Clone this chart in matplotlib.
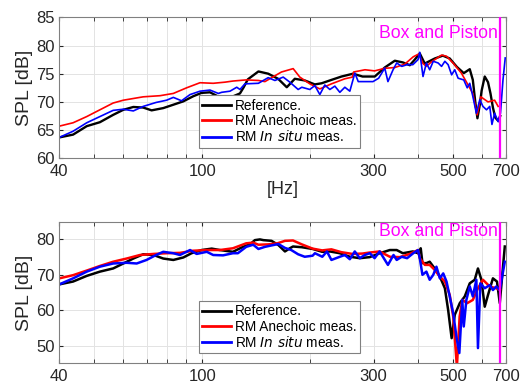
import numpy as np
import matplotlib
matplotlib.use("Agg")
import matplotlib.pyplot as plt
import matplotlib.transforms as mtransforms

plt.rcParams["font.family"] = ["Liberation Sans", "DejaVu Sans"]

# ---- top panel data (Hz, dB) ----
top_ref_f = [40, 43.7, 47.7, 51.9, 56.5, 60.3, 64.3, 68.5, 72.3, 77.9, 83.1, 88.6, 94.4, 99.6, 105.1,
             112, 115.7, 121, 127.4, 130.5, 134, 143.4, 152.7, 162.7, 172, 181.1, 193.1, 205.9, 215,
             229, 244.3, 263, 279.6, 302.4, 322.4, 343.8, 362, 378.5, 390.8, 403.5, 416.6, 444.3,
             467.7, 489, 512, 535, 556, 567, 576, 584, 593, 600, 612, 625, 635, 645, 655, 668, 676]
top_ref_db = [63.7, 64.2, 65.7, 66.4, 67.7, 68.6, 69.1, 69.0, 68.5, 68.9, 69.5, 70.1, 71.0, 71.6, 71.7,
              70.8, 70.7, 70.9, 71.5, 72.6, 74.0, 75.4, 75.0, 74.1, 72.6, 74.1, 73.8, 73.1, 73.3,
              73.9, 74.5, 75.0, 74.5, 74.5, 76.1, 77.3, 77.0, 76.5, 77.5, 78.6, 76.8, 77.7,
              78.2, 77.7, 76.2, 75.1, 75.8, 73.9, 70.0, 67.1, 69.5, 72.0, 74.5, 73.5, 71.5, 69.0, 67.2, 66.6, 67.5]

top_ane_f = [40, 43.7, 47.7, 51.9, 56.5, 60.3, 68.5, 76.3, 83.1, 90.5, 98.6, 107.3, 115.7, 121.8, 132.6,
             143.4, 149.5, 166.2, 179.2, 187, 199.4, 212.6, 229, 249.6, 262, 264, 284, 302, 322, 344,
             366.5, 387, 401, 412, 421, 435, 464, 479, 501, 527, 550, 567, 583, 597, 625, 652, 667]
top_ane_db = [65.7, 66.3, 67.4, 68.6, 69.8, 70.3, 70.9, 71.1, 71.5, 72.5, 73.4, 73.3, 73.5, 73.7, 73.9,
              73.8, 73.6, 75.3, 75.9, 74.4, 73.2, 72.3, 73.2, 74.1, 74.4, 75.3, 75.7, 75.5, 75.95, 76.1,
              76.7, 78.0, 78.5, 76.8, 76.3, 77.1, 78.3, 78.1, 76.8, 75.1, 73.0, 71.5, 67.7, 70.9, 70.0, 70.3, 69.2]

top_situ_f = [40, 43.7, 47.7, 51.9, 56.5, 60.3, 64.3, 68.5, 74.4, 79.6, 83.1, 87.6, 92.5, 98.6, 105.1,
              110.9, 113.3, 119.5, 124.8, 127.4, 131.5, 143.4, 152.7, 159.4, 168.1, 175.4, 185, 189.4,
              199.4, 205.9, 212.6, 219.5, 226.7, 234.1, 241.7, 249.6, 257.7, 266.1, 272, 287, 299, 310,
              322.4, 329, 340, 348, 359.5, 372, 386, 399, 403.5, 412, 421, 430, 440, 454, 464, 474, 484,
              495, 505, 516, 535, 547, 556, 567, 580, 593, 605, 619, 632, 641, 652, 667, 677, 688, 698]
top_situ_db = [63.7, 64.8, 66.3, 67.4, 68.5, 68.7, 68.4, 69.2, 69.9, 70.3, 70.8, 70.2, 71.3, 71.9, 72.1,
               71.5, 71.7, 71.9, 72.6, 72.2, 73.2, 73.3, 74.3, 73.8, 74.4, 73.5, 72.2, 72.6,
               72.2, 72.9, 71.3, 73.0, 72.2, 72.8, 71.7, 72.6, 71.9, 75.1, 73.6, 73.6, 73.6, 74.2,
               76.0, 73.6, 75.7, 76.9, 76.3, 76.6, 76.6, 77.5, 78.8, 74.5, 76.9, 75.7, 77.2, 76.9, 76.3, 77.2, 76.6,
               74.8, 75.7, 74.2, 73.9, 72.5, 73.3, 71.0, 68.0, 70.4, 69.2, 68.6, 69.2, 66.0, 68.0, 66.5, 68.0, 73.9, 77.8]

# ---- bottom panel data (Hz, dB) ----
bot_ref_f = [40, 43.7, 47.7, 51.9, 56.5, 60.3, 64.3, 68.5, 73.2, 77.9, 83.1, 88.6, 93.4, 99.6, 106.3,
             112, 121.8, 129.9, 135.8, 140.2, 144.8, 148, 156, 163, 170, 175.4, 179, 189.4, 203, 215.8,
             226.7, 241.7, 257.7, 274.7, 292.9, 312.3, 333, 348, 362, 386, 399, 406, 410.5, 421, 430,
             444, 459, 474, 484, 495, 505, 521.5, 538.5, 556, 574, 586, 599, 612, 625, 645, 662, 674, 696]
bot_ref_db = [67.3, 68.1, 69.7, 70.9, 71.8, 73.2, 74.6, 75.8, 75.6, 74.6, 74.2, 74.9, 76.1, 77.0, 77.4,
              77.0, 76.5, 77.9, 78.6, 79.8, 80.0, 79.8, 79.6, 78.4, 76.6, 77.5, 78.0, 77.8, 77.3, 76.5,
              76.6, 76.1, 75.1, 74.7, 75.0, 76.1, 77.0, 77.0, 76.1, 76.6, 76.1, 77.5, 73.3, 73.3, 73.7,
              71.8, 69.5, 66.2, 60.1, 52.1, 58.7, 62.0, 63.9, 67.6, 68.6, 71.8, 68.6, 61.0, 64.3, 69.0, 68.1, 62.0, 78.0]

bot_ane_f = [40, 43.7, 47.7, 51.9, 56.5, 61.6, 67.1, 73.2, 79.6, 86.7, 94.4, 103, 112, 121.8, 132.6,
             138.7, 143.4, 152.7, 162, 170, 179, 189.4, 203, 215.8, 229, 244, 262, 279, 293, 312, 333,
             355, 378.5, 399, 403.5, 417, 430, 444, 459, 474, 489, 500, 512, 521, 530, 547, 567, 586,
             605, 632, 659, 674]
bot_ane_db = [69.0, 69.9, 71.2, 72.5, 73.7, 74.6, 75.6, 75.9, 76.1, 76.2, 76.8, 77.0, 77.0, 77.5, 78.9,
              79.1, 78.5, 78.6, 78.9, 79.6, 79.7, 78.6, 77.4, 76.9, 77.2, 76.4, 75.9, 76.0, 76.3, 76.6, 75.1,
              75.0, 75.9, 77.0, 74.7, 72.8, 72.8, 71.4, 69.5, 68.1, 64.3, 58.2, 44.0, 58.2, 62.9, 62.0, 62.9, 66.2,
              68.6, 66.7, 66.2, 65.7]

bot_situ_f = [40, 43.7, 47.7, 51.9, 56.5, 61.6, 65.7, 70, 74.4, 77.9, 83.1, 86.7, 92.5, 96.5, 103, 107.3,
              114.3, 121.8, 125.7, 132.6, 138.7, 143.4, 149.5, 156, 163, 170, 177, 185, 193, 203, 206,
              216, 222.5, 229, 241.7, 249.6, 257.7, 266, 274.7, 283.7, 293, 302, 312, 329, 341, 348,
              359.5, 372, 387, 399, 403.5, 410.5, 421, 430, 440, 449, 459, 469, 479, 489, 500, 512, 520,
              530, 535, 544, 556, 567, 580, 586, 595, 612, 632, 645, 659, 674, 696]
bot_situ_db = [67.3, 69.0, 70.9, 72.3, 73.2, 73.4, 73.2, 74.2, 75.6, 76.5, 76.1, 75.6, 77.0, 75.9, 76.5, 75.6,
               75.5, 76.1, 76.1, 77.9, 78.5, 77.3, 77.9, 78.3, 78.7, 77.6, 77.0, 75.8, 75.1, 75.4, 76.1,
               75.1, 76.6, 74.2, 75.1, 75.6, 74.4, 76.6, 74.7, 75.6, 76.1, 74.7, 76.6, 72.8, 75.6, 74.2,
               75.1, 74.7, 76.1, 77.0, 74.7, 70.0, 70.9, 68.6, 70.0, 72.3, 69.0, 70.4, 68.1, 63.9, 59.1, 51.6, 47.9,
               62.9, 55.4, 62.9, 66.7, 63.9, 68.6, 49.3, 67.6, 66.2, 67.1, 65.7, 66.7, 65.7, 73.7]

f_cut = 677
xticks = [40, 100, 300, 500, 700]
labels = ["Reference.", "RM Anechoic meas.", "RM $\\it{In\\ situ}$ meas."]

fig = plt.figure(figsize=(5.21, 3.83), dpi=100)
ax1 = fig.add_axes([0.1138, 0.5867, 0.8568, 0.3681])
ax2 = fig.add_axes([0.1138, 0.0514, 0.8568, 0.3697])


def style(ax, ylim, yticks, lw_ref, lw_other, ref, ane, situ, leg_y, txt_y):
    ax.semilogx(ref[0], ref[1], color="k", lw=lw_ref, label=labels[0])
    ax.semilogx(ane[0], ane[1], color="#ff0000", lw=lw_other, label=labels[1])
    ax.semilogx(situ[0], situ[1], color="#0000ff", lw=lw_other, label=labels[2])
    ax.axvline(f_cut, color="#ff00ff", lw=1.6, zorder=5)
    trans = mtransforms.blended_transform_factory(ax.transData, ax.transAxes)
    ax.text(f_cut * 0.985, txt_y, "Box and Piston", color="#ff00ff", fontsize=12.7,
            ha="right", va="center", transform=trans)
    ax.set_xlim(40, 700)
    ax.set_ylim(*ylim)
    ax.set_xticks(xticks)
    ax.set_xticklabels([str(t) for t in xticks])
    ax.set_xticks([50, 60, 70, 80, 90, 200, 400, 600], minor=True)
    ax.xaxis.set_minor_formatter(matplotlib.ticker.NullFormatter())
    ax.set_yticks(yticks)
    ax.grid(True, which="both", color="#e3e3e3", lw=0.7)
    ax.set_axisbelow(True)
    ax.tick_params(which="both", direction="in", top=True, right=True, labelsize=12,
                   colors="#262626", length=3)
    ax.tick_params(axis="x", pad=4)
    ax.tick_params(axis="y", pad=3)
    for s in ax.spines.values():
        s.set_color("#808080")
        s.set_linewidth(0.8)
    ax.set_ylabel("SPL [dB]", fontsize=14, color="#262626")
    ax.yaxis.set_label_coords(-0.06, 0.5)
    leg = ax.legend(loc="lower left", bbox_to_anchor=(0.313, leg_y), borderaxespad=0,
                    fancybox=False, edgecolor="#808080", framealpha=1, fontsize=9.8,
                    handlelength=2.1, handletextpad=0.3, labelspacing=0.1,
                    borderpad=0.25)
    leg.get_frame().set_linewidth(0.8)
    for h in leg.get_lines():
        h.set_linewidth(2.0)


style(ax1, (60, 85), [60, 65, 70, 75, 80, 85], 1.7, 1.2,
      (top_ref_f, top_ref_db), (top_ane_f, top_ane_db), (top_situ_f, top_situ_db), 0.075, 0.887)
style(ax2, (45, 85), [50, 60, 70, 80], 1.8, 1.8,
      (bot_ref_f, bot_ref_db), (bot_ane_f, bot_ane_db), (bot_situ_f, bot_situ_db), 0.07, 0.929)

ax1.set_xlabel("[Hz]", fontsize=13, color="#262626")
ax1.xaxis.set_label_coords(0.5, -0.16)

fig.savefig("out.png", dpi=100)
